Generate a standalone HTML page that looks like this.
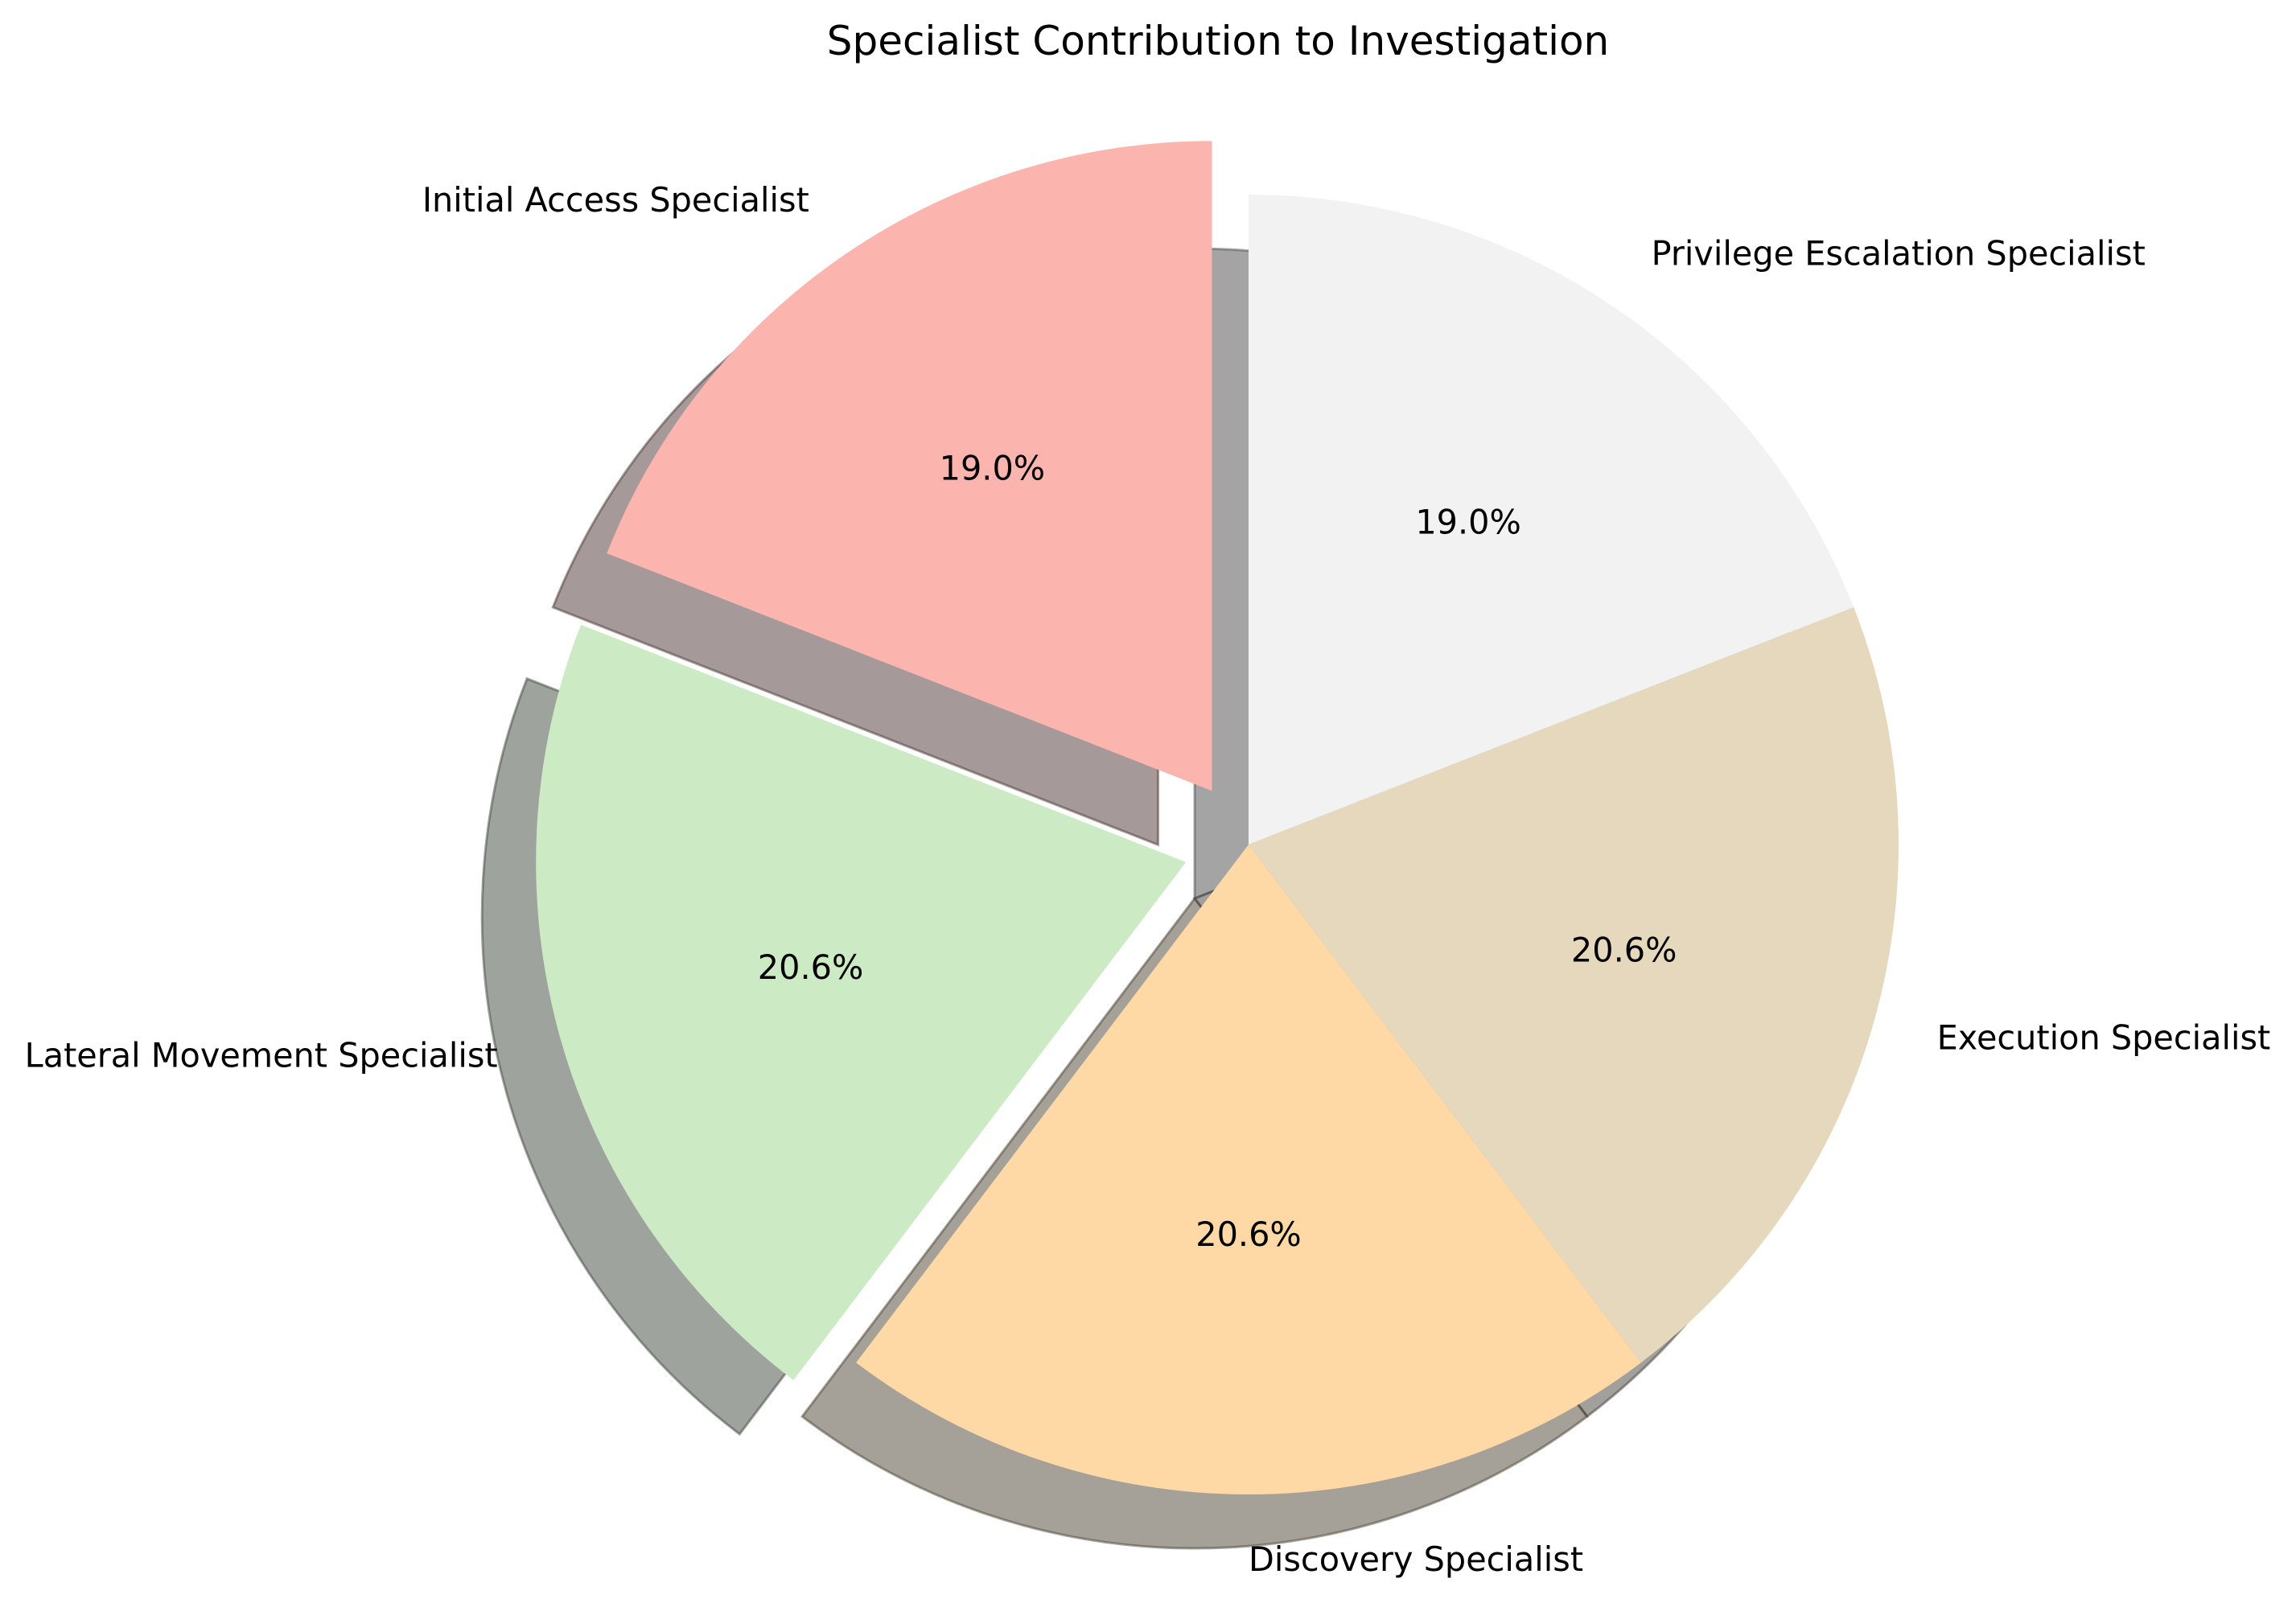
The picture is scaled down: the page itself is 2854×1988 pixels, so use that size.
<!DOCTYPE html>
<html>
<head>
<meta charset="utf-8">
<style>
  html, body { margin: 0; padding: 0; background: #ffffff; }
  svg { display: block; }
  text { font-family: "DejaVu Sans", "Liberation Sans", sans-serif; fill: #000; }
</style>
</head>
<body>
<svg id="chart" width="2854" height="1988" viewBox="0 0 2854 1988" xmlns="http://www.w3.org/2000/svg">
  <rect x="0" y="0" width="2854" height="1988" fill="#ffffff"/>
  <text x="1514" y="51" font-size="50" text-anchor="middle" dominant-baseline="central">Specialist Contribution to Investigation</text>
  <g id="shadows"></g>
  <g id="wedges"></g>
  <g id="labels"></g>
</svg>
<script>
const categories = ["Initial Access Specialist", "Lateral Movement Specialist", "Discovery Specialist", "Execution Specialist", "Privilege Escalation Specialist"];
const values = [12, 13, 13, 13, 12];
const explodes = [0.1, 0.1, 0, 0, 0];
const colors = ["#fbb4ae", "#ccebc5", "#fed9a6", "#e5d8bd", "#f2f2f2"];

const NS = "http://www.w3.org/2000/svg";
const cx = 1552, cy = 1050, R = 808;
const startAngle = 90;
const shadowDx = -67, shadowDy = 67;
const total = values.reduce((a, b) => a + b, 0);

function pt(x0, y0, r, deg) {
  const a = deg * Math.PI / 180;
  return [x0 + r * Math.cos(a), y0 - r * Math.sin(a)];
}
function wedgePath(x0, y0, r, a1, a2) {
  const p1 = pt(x0, y0, r, a1), p2 = pt(x0, y0, r, a2);
  const large = (a2 - a1) > 180 ? 1 : 0;
  return `M${x0},${y0} L${p1[0]},${p1[1]} A${r},${r} 0 ${large} 0 ${p2[0]},${p2[1]} Z`;
}
function shadowColor(hex) {
  const n = parseInt(hex.slice(1), 16);
  const c = [(n >> 16) & 255, (n >> 8) & 255, n & 255].map(v => Math.round(v * 0.3));
  return `rgb(${c[0]},${c[1]},${c[2]})`;
}

const gS = document.getElementById("shadows");
const gW = document.getElementById("wedges");
const gL = document.getElementById("labels");

let theta = startAngle;
values.forEach((v, i) => {
  const span = 360 * v / total;
  const a1 = theta, a2 = theta + span, mid = (a1 + a2) / 2;
  const off = pt(0, 0, explodes[i] * R, mid);
  const x0 = cx + off[0], y0 = cy + off[1];

  const sh = document.createElementNS(NS, "path");
  sh.setAttribute("d", wedgePath(x0 + shadowDx, y0 + shadowDy, R, a1, a2));
  sh.setAttribute("fill", shadowColor(colors[i]));
  sh.setAttribute("fill-opacity", "0.5");
  sh.setAttribute("stroke", shadowColor(colors[i]));
  sh.setAttribute("stroke-opacity", "0.5");
  sh.setAttribute("stroke-width", "3");
  
  
  gS.appendChild(sh);

  const w = document.createElementNS(NS, "path");
  w.setAttribute("d", wedgePath(x0, y0, R, a1, a2));
  w.setAttribute("fill", colors[i]);
  
  
  gW.appendChild(w);

  const lp = pt(x0, y0, 1.1 * R, mid);
  const lt = document.createElementNS(NS, "text");
  lt.setAttribute("x", lp[0]);
  lt.setAttribute("y", lp[1]);
  lt.setAttribute("font-size", "41.4");
  lt.setAttribute("dominant-baseline", "central");
  lt.setAttribute("text-anchor", lp[0] < cx - 1 ? "end" : "start");
  lt.textContent = categories[i];
  
  
  gL.appendChild(lt);

  const pp = pt(x0, y0, 0.6 * R, mid);
  const pc = document.createElementNS(NS, "text");
  pc.setAttribute("x", pp[0]);
  pc.setAttribute("y", pp[1]);
  pc.setAttribute("font-size", "41.4");
  pc.setAttribute("dominant-baseline", "central");
  pc.setAttribute("text-anchor", "middle");
  pc.textContent = (100 * v / total).toFixed(1) + "%";
  
  
  gL.appendChild(pc);

  theta = a2;
});
</script>
</body>
</html>
